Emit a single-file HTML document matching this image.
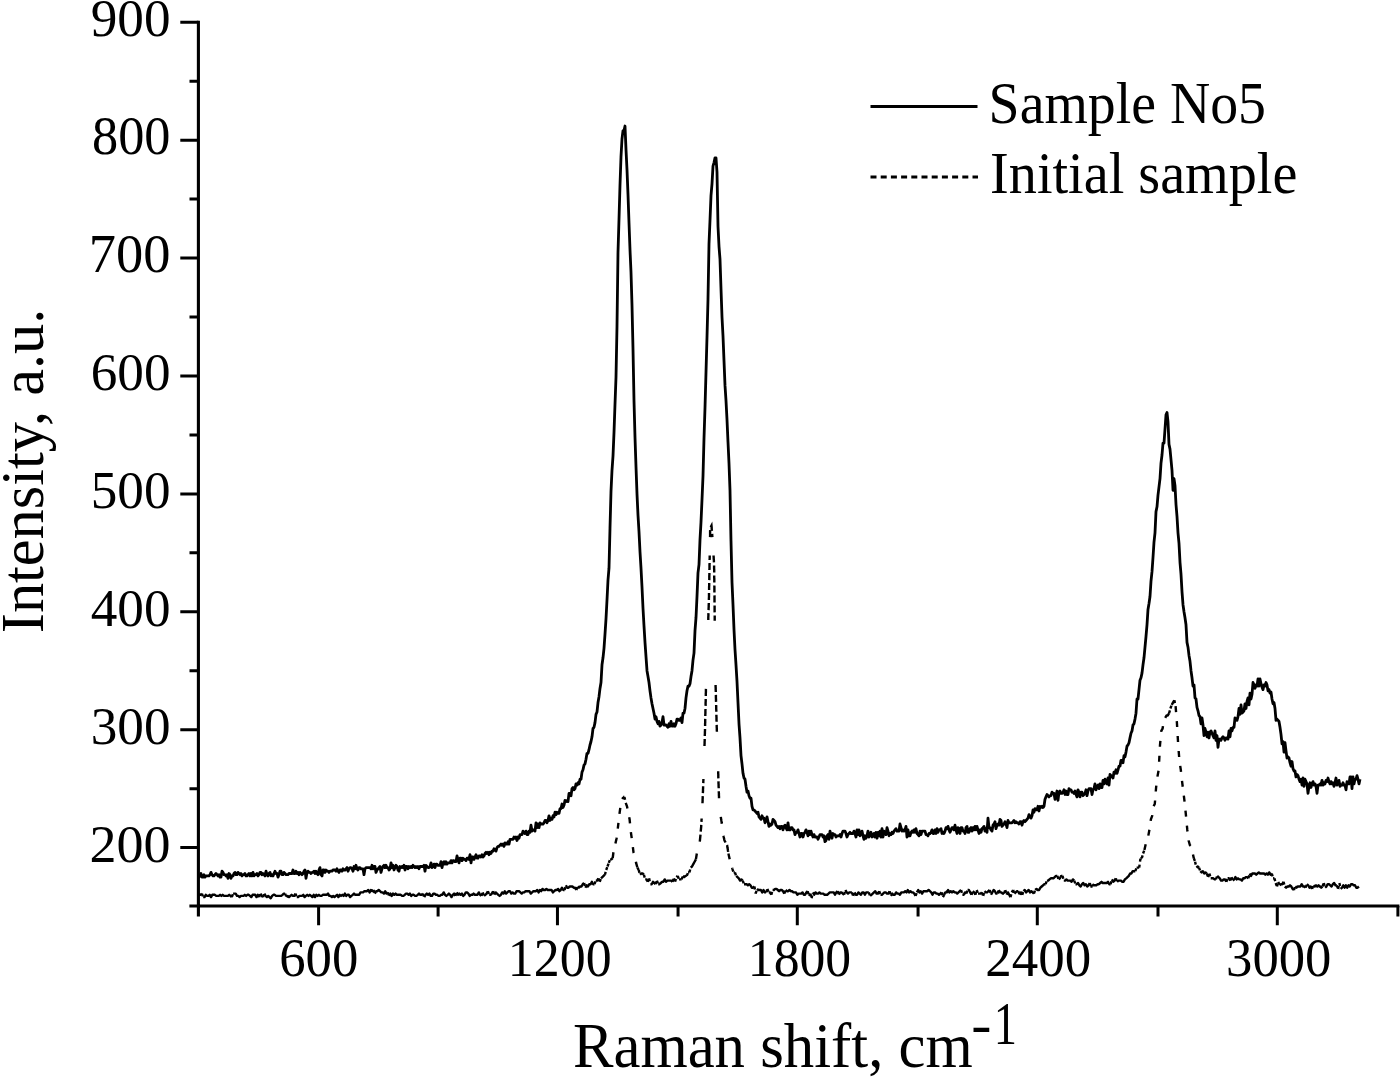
<!DOCTYPE html>
<html><head><meta charset="utf-8"><title>Raman spectra</title>
<style>html,body{margin:0;padding:0;background:#fff;overflow:hidden;width:1400px;height:1077px;}svg{display:block;}</style>
</head><body>
<svg width="1400" height="1077" viewBox="0 0 1400 1077"><rect width="1400" height="1077" fill="#fff"/><polyline fill="none" stroke="#000" stroke-width="2.8" stroke-linejoin="round" points="198.0,877.1 199.0,877.1 200.0,875.9 201.0,873.5 202.0,877.1 203.0,877.1 204.0,874.7 205.0,877.1 206.0,875.9 207.0,875.9 208.0,875.9 209.0,875.9 210.0,874.7 211.0,872.4 212.0,874.7 213.0,875.9 214.0,875.9 215.0,874.7 216.0,873.5 217.0,874.7 218.0,875.9 219.0,874.7 220.0,877.1 221.0,877.1 222.0,871.2 223.0,872.4 224.0,874.7 225.0,874.7 226.0,875.9 227.0,874.7 228.0,878.3 229.0,873.5 230.0,874.7 231.0,878.3 232.0,875.9 233.0,875.9 234.0,873.5 235.0,872.4 236.0,874.7 237.0,874.7 238.0,872.4 239.0,873.5 240.0,874.7 241.0,873.5 242.0,875.9 243.0,874.7 244.0,874.7 245.0,873.5 246.0,875.9 247.0,875.9 248.0,874.7 249.0,873.5 250.0,875.9 251.0,873.5 252.0,875.9 253.0,872.4 254.0,875.9 255.0,874.7 256.0,874.7 257.0,873.5 258.0,875.9 259.0,874.7 260.0,872.4 261.0,872.4 262.0,874.7 263.0,873.5 264.0,874.7 265.0,875.9 266.0,871.2 267.0,874.7 268.0,875.9 269.0,873.5 270.0,872.4 271.0,875.9 272.0,874.7 273.0,875.9 274.0,873.5 275.0,871.2 276.0,873.5 277.0,873.5 278.0,877.1 279.0,874.7 280.0,871.2 281.0,871.2 282.0,874.7 283.0,874.7 284.0,872.4 285.0,873.5 286.0,874.7 287.0,874.7 288.0,874.7 289.0,873.5 290.0,873.5 291.0,873.5 292.0,873.5 293.0,870.0 294.0,873.5 295.0,873.5 296.0,871.2 297.0,873.5 298.0,872.4 299.0,874.7 300.0,872.4 301.0,873.5 302.0,874.7 303.0,873.5 304.0,871.2 305.0,870.0 306.0,878.3 307.0,872.4 308.0,871.2 309.0,872.4 310.0,872.4 311.0,873.5 312.0,872.4 313.0,872.4 314.0,871.2 315.0,873.5 316.0,871.2 317.0,873.5 318.0,874.7 319.0,870.0 320.0,867.6 321.0,874.7 322.0,875.9 323.0,870.0 324.0,870.0 325.0,872.4 326.0,870.0 327.0,871.2 328.0,871.2 329.0,872.4 330.0,871.2 331.0,871.2 332.0,871.2 333.0,870.0 334.0,870.0 335.0,870.0 336.0,871.2 337.0,868.8 338.0,871.2 339.0,872.4 340.0,870.0 341.0,870.0 342.0,871.2 343.0,868.8 344.0,870.0 345.0,870.0 346.0,868.8 347.0,867.6 348.0,871.2 349.0,868.8 350.0,867.6 351.0,867.6 352.0,868.8 353.0,871.2 354.0,866.5 355.0,868.8 356.0,865.3 357.0,868.8 358.0,870.0 359.0,867.6 360.0,867.6 361.0,868.8 362.0,868.8 363.0,868.8 364.0,874.7 365.0,868.8 366.0,867.6 367.0,867.6 368.0,867.6 369.0,867.6 370.0,867.6 371.0,868.8 372.0,865.3 373.0,868.8 374.0,866.5 375.0,866.5 376.0,872.4 377.0,870.0 378.0,868.8 379.0,867.6 380.0,866.5 381.0,872.4 382.0,868.8 383.0,866.5 384.0,865.3 385.0,867.6 386.0,865.3 387.0,867.6 388.0,867.6 389.0,870.0 390.0,868.8 391.0,862.9 392.0,867.6 393.0,865.3 394.0,870.0 395.0,867.6 396.0,865.3 397.0,866.5 398.0,870.0 399.0,871.2 400.0,866.5 401.0,867.6 402.0,866.5 403.0,867.6 404.0,865.3 405.0,870.0 406.0,866.5 407.0,866.5 408.0,868.8 409.0,866.5 410.0,867.6 411.0,866.5 412.0,867.6 413.0,865.3 414.0,866.5 415.0,867.6 416.0,866.5 417.0,867.6 418.0,866.5 419.0,868.8 420.0,866.5 421.0,866.5 422.0,866.5 423.0,866.5 424.0,865.3 425.0,871.2 426.0,865.3 427.0,866.5 428.0,867.6 429.0,867.6 430.0,866.5 431.0,862.9 432.0,867.6 433.0,866.5 434.0,864.1 435.0,867.6 436.0,864.1 437.0,864.1 438.0,865.3 439.0,865.3 440.0,865.3 441.0,861.7 442.0,867.6 443.0,862.9 444.0,861.7 445.0,864.1 446.0,861.7 447.0,864.1 448.0,862.9 449.0,862.9 450.0,862.9 451.0,860.6 452.0,862.9 453.0,860.6 454.0,860.6 455.0,861.7 456.0,861.7 457.0,855.9 458.0,859.4 459.0,862.9 460.0,858.2 461.0,858.2 462.0,860.6 463.0,858.2 464.0,859.4 465.0,859.4 466.0,860.6 467.0,858.2 468.0,858.2 469.0,859.4 470.0,854.7 471.0,862.9 472.0,857.0 473.0,857.0 474.0,859.4 475.0,857.0 476.0,854.7 477.0,858.2 478.0,858.2 479.0,855.9 480.0,855.9 481.0,857.0 482.0,854.7 483.0,857.0 484.0,855.9 485.0,853.5 486.0,852.3 487.0,853.5 488.0,852.3 489.0,854.7 490.0,852.3 491.0,853.5 492.0,851.1 493.0,851.1 494.0,848.8 495.0,850.0 496.0,851.1 497.0,847.6 498.0,846.4 499.0,846.4 500.0,845.2 501.0,844.1 502.0,845.2 503.0,844.1 504.0,846.4 505.0,842.9 506.0,844.1 507.0,844.1 508.0,841.7 509.0,844.1 510.0,839.3 511.0,839.3 512.0,839.3 513.0,839.3 514.0,837.0 515.0,838.2 516.0,837.0 517.0,840.5 518.0,837.0 519.0,838.2 520.0,834.6 521.0,834.6 522.0,834.6 523.0,831.1 524.0,832.3 525.0,833.5 526.0,831.1 527.0,834.6 528.0,834.6 529.0,831.1 530.0,832.3 531.0,825.2 532.0,831.1 533.0,829.9 534.0,829.9 535.0,831.1 536.0,822.8 537.0,827.6 538.0,824.0 539.0,827.6 540.0,822.8 541.0,824.0 542.0,824.0 543.0,824.0 544.0,822.8 545.0,820.5 546.0,820.5 547.0,822.8 548.0,820.5 549.0,815.8 550.0,820.5 551.0,818.1 552.0,819.3 553.0,815.8 554.0,816.9 555.0,812.2 556.0,814.6 557.0,812.2 558.0,813.4 559.0,813.4 560.0,808.7 561.0,808.7 562.0,804.0 563.0,807.5 564.0,805.2 565.0,800.4 566.0,801.6 567.0,800.4 568.0,801.6 569.0,793.4 570.0,793.4 571.0,795.7 572.0,788.6 573.0,787.5 574.0,789.8 575.0,788.6 576.0,783.9 577.0,785.1 578.0,782.8 579.0,783.9 580.0,779.2 581.0,779.2 582.0,772.1 583.0,769.8 584.0,765.1 585.0,763.9 586.0,759.2 587.0,753.3 588.0,753.3 589.0,749.7 590.0,745.0 591.0,741.5 592.0,736.8 593.0,728.5 594.0,727.3 595.0,722.6 596.0,714.4 597.0,712.0 598.0,702.6 599.0,696.7 600.0,688.4 601.0,682.5 602.0,664.8 603.0,657.8 604.0,648.3 605.0,634.2 606.0,618.9 607.0,600.0 608.0,580.0 609.0,568.2 610.0,528.1 611.0,491.5 612.0,470.3 613.0,456.1 614.0,432.6 615.0,404.3 616.0,377.2 617.0,326.5 618.0,252.2 619.0,219.2 620.0,185.0 621.0,156.7 622.0,139.0 623.0,130.7 624.0,130.7 625.0,126.0 626.0,149.6 627.0,169.6 628.0,194.4 629.0,222.7 630.0,249.8 631.0,272.2 632.0,305.2 633.0,348.9 634.0,400.7 635.0,437.3 636.0,466.8 637.0,493.9 638.0,515.1 639.0,531.6 640.0,551.7 641.0,568.2 642.0,587.0 643.0,608.2 644.0,625.9 645.0,642.4 646.0,656.6 647.0,670.7 648.0,676.6 649.0,682.5 650.0,690.8 651.0,697.9 652.0,703.8 653.0,708.5 654.0,713.2 655.0,719.1 656.0,716.7 657.0,721.4 658.0,723.8 659.0,721.4 660.0,726.2 661.0,725.0 662.0,722.6 663.0,716.7 664.0,725.0 665.0,725.0 666.0,725.0 667.0,726.2 668.0,727.3 669.0,723.8 670.0,726.2 671.0,721.4 672.0,726.2 673.0,726.2 674.0,723.8 675.0,726.2 676.0,723.8 677.0,719.1 678.0,719.1 679.0,720.3 680.0,720.3 681.0,717.9 682.0,722.6 683.0,713.2 684.0,713.2 685.0,708.5 686.0,697.9 687.0,690.8 688.0,686.1 689.0,686.1 690.0,683.7 691.0,676.6 692.0,670.7 693.0,660.1 694.0,653.1 695.0,630.7 696.0,617.7 697.0,596.5 698.0,572.9 699.0,564.6 700.0,539.9 701.0,522.2 702.0,499.8 703.0,476.2 704.0,438.5 705.0,407.8 706.0,372.4 707.0,337.1 708.0,299.3 709.0,243.9 710.0,220.3 711.0,195.6 712.0,183.8 713.0,166.1 714.0,162.6 715.0,157.8 716.0,157.8 717.0,172.0 718.0,226.2 719.0,246.3 720.0,259.2 721.0,288.7 722.0,317.0 723.0,335.9 724.0,360.6 725.0,385.4 726.0,400.7 727.0,419.6 728.0,442.0 729.0,463.2 730.0,490.3 731.0,541.0 732.0,582.3 733.0,604.7 734.0,629.5 735.0,649.5 736.0,664.8 737.0,681.4 738.0,702.6 739.0,723.8 740.0,737.9 741.0,755.6 742.0,763.9 743.0,773.3 744.0,778.0 745.0,779.2 746.0,786.3 747.0,792.2 748.0,791.0 749.0,795.7 750.0,798.1 751.0,798.1 752.0,806.3 753.0,809.9 754.0,809.9 755.0,811.0 756.0,812.2 757.0,813.4 758.0,812.2 759.0,816.9 760.0,818.1 761.0,819.3 762.0,815.8 763.0,818.1 764.0,818.1 765.0,822.8 766.0,820.5 767.0,816.9 768.0,821.7 769.0,826.4 770.0,824.0 771.0,825.2 772.0,824.0 773.0,819.3 774.0,820.5 775.0,821.7 776.0,825.2 777.0,826.4 778.0,827.6 779.0,826.4 780.0,828.7 781.0,826.4 782.0,826.4 783.0,829.9 784.0,826.4 785.0,825.2 786.0,827.6 787.0,829.9 788.0,822.8 789.0,829.9 790.0,829.9 791.0,827.6 792.0,827.6 793.0,829.9 794.0,829.9 795.0,834.6 796.0,832.3 797.0,832.3 798.0,829.9 799.0,833.5 800.0,837.0 801.0,833.5 802.0,833.5 803.0,837.0 804.0,833.5 805.0,832.3 806.0,829.9 807.0,832.3 808.0,835.8 809.0,831.1 810.0,834.6 811.0,831.1 812.0,834.6 813.0,837.0 814.0,834.6 815.0,837.0 816.0,837.0 817.0,837.0 818.0,839.3 819.0,837.0 820.0,834.6 821.0,834.6 822.0,834.6 823.0,837.0 824.0,835.8 825.0,841.7 826.0,840.5 827.0,835.8 828.0,834.6 829.0,839.3 830.0,831.1 831.0,834.6 832.0,838.2 833.0,833.5 834.0,834.6 835.0,834.6 836.0,837.0 837.0,835.8 838.0,835.8 839.0,835.8 840.0,834.6 841.0,837.0 842.0,833.5 843.0,831.1 844.0,831.1 845.0,831.1 846.0,833.5 847.0,837.0 848.0,834.6 849.0,833.5 850.0,832.3 851.0,833.5 852.0,833.5 853.0,833.5 854.0,831.1 855.0,833.5 856.0,837.0 857.0,829.9 858.0,834.6 859.0,829.9 860.0,835.8 861.0,833.5 862.0,831.1 863.0,835.8 864.0,839.3 865.0,835.8 866.0,838.2 867.0,835.8 868.0,831.1 869.0,837.0 870.0,834.6 871.0,832.3 872.0,837.0 873.0,835.8 874.0,833.5 875.0,837.0 876.0,832.3 877.0,838.2 878.0,832.3 879.0,835.8 880.0,831.1 881.0,837.0 882.0,828.7 883.0,837.0 884.0,831.1 885.0,832.3 886.0,834.6 887.0,827.6 888.0,831.1 889.0,835.8 890.0,833.5 891.0,834.6 892.0,832.3 893.0,833.5 894.0,831.1 895.0,829.9 896.0,828.7 897.0,831.1 898.0,831.1 899.0,831.1 900.0,824.0 901.0,827.6 902.0,831.1 903.0,829.9 904.0,831.1 905.0,829.9 906.0,826.4 907.0,837.0 908.0,829.9 909.0,835.8 910.0,835.8 911.0,832.3 912.0,831.1 913.0,832.3 914.0,829.9 915.0,832.3 916.0,828.7 917.0,833.5 918.0,834.6 919.0,835.8 920.0,831.1 921.0,834.6 922.0,831.1 923.0,831.1 924.0,831.1 925.0,831.1 926.0,834.6 927.0,834.6 928.0,835.8 929.0,833.5 930.0,833.5 931.0,832.3 932.0,829.9 933.0,833.5 934.0,833.5 935.0,829.9 936.0,833.5 937.0,828.7 938.0,832.3 939.0,829.9 940.0,829.9 941.0,828.7 942.0,833.5 943.0,832.3 944.0,833.5 945.0,831.1 946.0,827.6 947.0,828.7 948.0,826.4 949.0,829.9 950.0,832.3 951.0,829.9 952.0,827.6 953.0,827.6 954.0,829.9 955.0,825.2 956.0,829.9 957.0,833.5 958.0,827.6 959.0,828.7 960.0,833.5 961.0,827.6 962.0,827.6 963.0,831.1 964.0,831.1 965.0,833.5 966.0,827.6 967.0,826.4 968.0,832.3 969.0,832.3 970.0,828.7 971.0,827.6 972.0,831.1 973.0,827.6 974.0,829.9 975.0,826.4 976.0,829.9 977.0,826.4 978.0,829.9 979.0,833.5 980.0,829.9 981.0,832.3 982.0,828.7 983.0,827.6 984.0,826.4 985.0,831.1 986.0,828.7 987.0,832.3 988.0,818.1 989.0,827.6 990.0,827.6 991.0,829.9 992.0,831.1 993.0,825.2 994.0,824.0 995.0,821.7 996.0,828.7 997.0,825.2 998.0,824.0 999.0,825.2 1000.0,819.3 1001.0,820.5 1002.0,826.4 1003.0,825.2 1004.0,824.0 1005.0,821.7 1006.0,824.0 1007.0,827.6 1008.0,820.5 1009.0,822.8 1010.0,822.8 1011.0,822.8 1012.0,822.8 1013.0,821.7 1014.0,820.5 1015.0,822.8 1016.0,821.7 1017.0,822.8 1018.0,822.8 1019.0,824.0 1020.0,821.7 1021.0,821.7 1022.0,825.2 1023.0,821.7 1024.0,820.5 1025.0,821.7 1026.0,820.5 1027.0,819.3 1028.0,818.1 1029.0,814.6 1030.0,816.9 1031.0,818.1 1032.0,815.8 1033.0,809.9 1034.0,812.2 1035.0,808.7 1036.0,809.9 1037.0,809.9 1038.0,806.3 1039.0,811.0 1040.0,806.3 1041.0,807.5 1042.0,806.3 1043.0,807.5 1044.0,806.3 1045.0,799.3 1046.0,796.9 1047.0,794.5 1048.0,795.7 1049.0,796.9 1050.0,795.7 1051.0,795.7 1052.0,792.2 1053.0,793.4 1054.0,793.4 1055.0,799.3 1056.0,795.7 1057.0,791.0 1058.0,800.4 1059.0,792.2 1060.0,791.0 1061.0,793.4 1062.0,793.4 1063.0,792.2 1064.0,789.8 1065.0,794.5 1066.0,791.0 1067.0,794.5 1068.0,794.5 1069.0,788.6 1070.0,789.8 1071.0,789.8 1072.0,792.2 1073.0,792.2 1074.0,793.4 1075.0,791.0 1076.0,794.5 1077.0,796.9 1078.0,789.8 1079.0,792.2 1080.0,796.9 1081.0,792.2 1082.0,792.2 1083.0,795.7 1084.0,794.5 1085.0,793.4 1086.0,789.8 1087.0,795.7 1088.0,791.0 1089.0,788.6 1090.0,788.6 1091.0,788.6 1092.0,794.5 1093.0,789.8 1094.0,788.6 1095.0,783.9 1096.0,789.8 1097.0,786.3 1098.0,785.1 1099.0,788.6 1100.0,783.9 1101.0,787.5 1102.0,787.5 1103.0,780.4 1104.0,783.9 1105.0,779.2 1106.0,782.8 1107.0,783.9 1108.0,778.0 1109.0,785.1 1110.0,774.5 1111.0,775.7 1112.0,776.9 1113.0,778.0 1114.0,772.1 1115.0,773.3 1116.0,769.8 1117.0,773.3 1118.0,769.8 1119.0,766.2 1120.0,766.2 1121.0,760.3 1122.0,760.3 1123.0,762.7 1124.0,755.6 1125.0,756.8 1126.0,752.1 1127.0,746.2 1128.0,745.0 1129.0,742.7 1130.0,737.9 1131.0,733.2 1132.0,730.9 1133.0,725.0 1134.0,723.8 1135.0,719.1 1136.0,713.2 1137.0,699.0 1138.0,699.0 1139.0,689.6 1140.0,680.2 1141.0,677.8 1142.0,673.1 1143.0,664.8 1144.0,657.8 1145.0,647.2 1146.0,636.5 1147.0,624.8 1148.0,609.4 1149.0,603.5 1150.0,596.5 1151.0,581.1 1152.0,571.7 1153.0,557.5 1154.0,542.2 1155.0,532.8 1156.0,511.6 1157.0,506.8 1158.0,495.1 1159.0,486.8 1160.0,478.6 1161.0,463.2 1162.0,455.0 1163.0,443.2 1164.0,443.2 1165.0,429.0 1166.0,414.9 1167.0,412.5 1168.0,422.0 1169.0,444.4 1170.0,449.1 1171.0,459.7 1172.0,470.3 1173.0,490.3 1174.0,478.6 1175.0,485.6 1176.0,504.5 1177.0,516.3 1178.0,532.8 1179.0,543.4 1180.0,562.3 1181.0,574.1 1182.0,591.7 1183.0,604.7 1184.0,611.8 1185.0,617.7 1186.0,624.8 1187.0,642.4 1188.0,647.2 1189.0,655.4 1190.0,661.3 1191.0,670.7 1192.0,677.8 1193.0,686.1 1194.0,684.9 1195.0,697.9 1196.0,699.0 1197.0,707.3 1198.0,710.8 1199.0,715.5 1200.0,716.7 1201.0,723.8 1202.0,717.9 1203.0,725.0 1204.0,735.6 1205.0,728.5 1206.0,732.1 1207.0,736.8 1208.0,732.1 1209.0,737.9 1210.0,732.1 1211.0,730.9 1212.0,733.2 1213.0,735.6 1214.0,737.9 1215.0,730.9 1216.0,740.3 1217.0,735.6 1218.0,747.4 1219.0,739.1 1220.0,739.1 1221.0,740.3 1222.0,737.9 1223.0,736.8 1224.0,737.9 1225.0,740.3 1226.0,737.9 1227.0,737.9 1228.0,739.1 1229.0,730.9 1230.0,736.8 1231.0,728.5 1232.0,730.9 1233.0,727.3 1234.0,727.3 1235.0,717.9 1236.0,719.1 1237.0,720.3 1238.0,716.7 1239.0,708.5 1240.0,714.4 1241.0,704.9 1242.0,713.2 1243.0,712.0 1244.0,710.8 1245.0,703.8 1246.0,708.5 1247.0,701.4 1248.0,697.9 1249.0,704.9 1250.0,693.1 1251.0,699.0 1252.0,694.3 1253.0,682.5 1254.0,684.9 1255.0,688.4 1256.0,684.9 1257.0,686.1 1258.0,679.0 1259.0,686.1 1260.0,679.0 1261.0,683.7 1262.0,687.2 1263.0,689.6 1264.0,684.9 1265.0,686.1 1266.0,682.5 1267.0,684.9 1268.0,690.8 1269.0,689.6 1270.0,693.1 1271.0,692.0 1272.0,699.0 1273.0,703.8 1274.0,702.6 1275.0,708.5 1276.0,720.3 1277.0,719.1 1278.0,720.3 1279.0,721.4 1280.0,727.3 1281.0,734.4 1282.0,743.8 1283.0,741.5 1284.0,752.1 1285.0,742.7 1286.0,750.9 1287.0,758.0 1288.0,756.8 1289.0,758.0 1290.0,762.7 1291.0,766.2 1292.0,761.5 1293.0,768.6 1294.0,771.0 1295.0,771.0 1296.0,776.9 1297.0,774.5 1298.0,775.7 1299.0,779.2 1300.0,781.6 1301.0,779.2 1302.0,785.1 1303.0,778.0 1304.0,786.3 1305.0,779.2 1306.0,781.6 1307.0,783.9 1308.0,793.4 1309.0,786.3 1310.0,782.8 1311.0,787.5 1312.0,783.9 1313.0,781.6 1314.0,785.1 1315.0,783.9 1316.0,786.3 1317.0,793.4 1318.0,785.1 1319.0,785.1 1320.0,783.9 1321.0,785.1 1322.0,780.4 1323.0,785.1 1324.0,782.8 1325.0,783.9 1326.0,780.4 1327.0,781.6 1328.0,778.0 1329.0,781.6 1330.0,783.9 1331.0,781.6 1332.0,783.9 1333.0,782.8 1334.0,786.3 1335.0,782.8 1336.0,778.0 1337.0,785.1 1338.0,782.8 1339.0,780.4 1340.0,786.3 1341.0,785.1 1342.0,785.1 1343.0,782.8 1344.0,785.1 1345.0,785.1 1346.0,789.8 1347.0,781.6 1348.0,782.8 1349.0,783.9 1350.0,776.9 1351.0,776.9 1352.0,788.6 1353.0,776.9 1354.0,783.9 1355.0,779.2 1356.0,779.2 1357.0,775.7 1358.0,779.2 1359.0,783.9 1360.0,779.2"/><path fill="none" stroke="#000" stroke-width="2.4" stroke-linejoin="round" d="M198.0,895.9 L199.3,894.8 L200.6,894.8 L201.9,893.6M203.2,897.1 L204.5,897.1 L205.8,894.8 L207.1,895.9 L208.4,895.9 L209.7,894.8 L211.0,897.1 L212.3,894.8 L213.6,894.8 L214.9,894.8 L216.2,895.9 L217.5,895.9 L218.8,895.9 L220.1,894.8 L221.4,895.9 L222.7,894.8 L224.0,895.9 L225.3,895.9 L226.6,895.9 L227.9,895.9 L229.2,894.8 L230.5,895.9 L231.8,897.1M233.1,893.6 L234.4,893.6 L235.7,893.6 L237.0,895.9 L238.3,895.9 L239.6,897.1 L240.9,895.9 L242.2,895.9 L243.5,895.9 L244.8,894.8 L246.1,895.9 L247.4,894.8 L248.7,894.8 L250.0,895.9 L251.3,897.1 L252.6,894.8 L253.9,894.8 L255.2,894.8 L256.5,897.1 L257.8,894.8 L259.1,897.1M260.4,893.6 L261.7,895.9 L263.0,897.1M264.3,893.6 L265.6,895.9 L266.9,897.1 L268.2,895.9 L269.5,897.1 L270.8,898.3 L272.1,895.9 L273.4,894.8 L274.7,894.8 L276.0,895.9 L277.3,895.9 L278.6,895.9 L279.9,895.9 L281.2,895.9 L282.5,894.8 L283.8,893.6 L285.1,893.6M286.4,897.1 L287.7,895.9 L289.0,897.1 L290.3,895.9 L291.6,894.8 L292.9,895.9 L294.2,895.9 L295.5,893.6M296.8,897.1 L298.1,897.1 L299.4,895.9 L300.7,895.9 L302.0,895.9 L303.3,894.8 L304.6,897.1 L305.9,895.9 L307.2,894.8 L308.5,895.9 L309.8,894.8 L311.1,895.9 L312.4,897.1 L313.7,894.8 L315.0,897.1 L316.3,894.8 L317.6,895.9 L318.9,894.8 L320.2,895.9 L321.5,895.9 L322.8,894.8 L324.1,894.8 L325.4,894.8 L326.7,894.8 L328.0,893.6 L329.3,895.9 L330.6,895.9 L331.9,897.1 L333.2,895.9 L334.5,897.1 L335.8,895.9 L337.1,894.8 L338.4,897.1 L339.7,894.8 L341.0,895.9 L342.3,894.8 L343.6,895.9 L344.9,893.6 L346.2,895.9 L347.5,894.8 L348.8,894.8 L350.1,897.1 L351.4,895.9 L352.7,894.8 L354.0,893.6 L355.3,894.8 L356.6,894.8 L357.9,894.8 L359.2,894.8 L360.5,892.4 L361.8,892.4 L363.1,892.4 L364.4,891.2 L365.7,891.2 L367.0,891.2 L368.3,890.0 L369.6,892.4 L370.9,890.0 L372.2,891.2 L373.5,890.0M374.8,893.6 L376.1,891.2 L377.4,891.2 L378.7,890.0 L380.0,891.2 L381.3,892.4 L382.6,892.4 L383.9,893.6 L385.2,891.2 L386.5,893.6 L387.8,892.4M389.1,895.9 L390.4,893.6 L391.7,895.9 L393.0,893.6 L394.3,894.8 L395.6,893.6 L396.9,894.8 L398.2,894.8 L399.5,894.8 L400.8,894.8 L402.1,895.9 L403.4,895.9 L404.7,894.8 L406.0,893.6 L407.3,893.6 L408.6,894.8 L409.9,893.6 L411.2,895.9 L412.5,894.8 L413.8,894.8 L415.1,895.9 L416.4,895.9 L417.7,894.8 L419.0,893.6 L420.3,894.8 L421.6,894.8 L422.9,893.6M424.2,897.1 L425.5,894.8 L426.8,893.6 L428.1,894.8 L429.4,893.6 L430.7,895.9 L432.0,895.9 L433.3,893.6 L434.6,893.6 L435.9,894.8 L437.2,894.8 L438.5,895.9 L439.8,895.9 L441.1,894.8 L442.4,894.8 L443.7,892.4 L445.0,894.8 L446.3,895.9 L447.6,894.8 L448.9,893.6 L450.2,894.8 L451.5,897.1 L452.8,894.8 L454.1,893.6 L455.4,895.9M456.7,892.4 L458.0,894.8 L459.3,893.6 L460.6,894.8 L461.9,893.6 L463.2,895.9 L464.5,894.8 L465.8,892.4 L467.1,892.4 L468.4,893.6 L469.7,895.9 L471.0,894.8 L472.3,894.8 L473.6,893.6 L474.9,894.8 L476.2,894.8 L477.5,894.8 L478.8,892.4 L480.1,894.8 L481.4,895.9M484.0,895.9 L485.3,894.8 L486.6,893.6 L487.9,891.2M489.2,894.8 L490.5,894.8 L491.8,893.6 L493.1,891.2M494.4,894.8 L495.7,892.4 L497.0,893.6 L498.3,894.8 L499.6,895.9 L500.9,894.8 L502.2,892.4 L503.5,893.6 L504.8,891.2 L506.1,893.6 L507.4,892.4 L508.7,891.2 L510.0,891.2 L511.3,893.6 L512.6,892.4 L513.9,893.6 L515.2,893.6 L516.5,891.2 L517.8,891.2 L519.1,891.2 L520.4,892.4 L521.7,893.6 L523.0,892.4 L524.3,892.4 L525.6,891.2 L526.9,891.2 L528.2,891.2 L529.5,891.2 L530.8,893.6 L532.1,892.4 L533.4,891.2 L534.7,891.2 L536.0,891.2 L537.3,890.0 L538.6,892.4 L539.9,890.0 L541.2,891.2 L542.5,888.9 L543.8,890.0 L545.1,890.0 L546.4,888.9 L547.7,890.0 L549.0,890.0 L550.3,890.0 L551.6,890.0 L552.9,892.4 L554.2,891.2 L555.5,890.0 L556.8,890.0 L558.1,888.9 L559.4,891.2 L560.7,890.0 L562.0,887.7 L563.3,890.0 L564.6,890.0M565.9,885.3 L567.2,887.7 L568.5,887.7 L569.8,886.5 L571.1,886.5 L572.4,886.5 L573.7,887.7 L575.0,887.7 L576.3,890.0M577.6,886.5 L578.9,887.7 L580.2,886.5 L581.5,886.5 L582.8,884.2 L584.1,883.0M585.4,887.7 L586.7,885.3 L588.0,886.5 L589.3,884.2 L590.6,884.2 L591.9,881.8 L593.2,884.2 L594.5,884.2M595.8,880.6 L597.1,880.6 L598.4,878.3M601.0,878.3 L602.3,877.1 L603.6,875.9 L604.9,874.7M610.1,859.4 L611.4,859.4 L612.7,858.2M623.1,796.9 L624.4,796.9M637.4,867.6 L638.7,870.0M640.0,874.7 L641.3,873.5 L642.6,873.5 L643.9,874.7M645.2,879.4 L646.5,879.4 L647.8,881.8M650.4,884.2 L651.7,884.2 L653.0,881.8 L654.3,883.0 L655.6,884.2M658.2,884.2 L659.5,884.2 L660.8,883.0 L662.1,881.8 L663.4,881.8 L664.7,879.4 L666.0,881.8 L667.3,880.6 L668.6,880.6 L669.9,880.6 L671.2,880.6 L672.5,881.8M676.4,877.1 L677.7,875.9M679.0,879.4 L680.3,879.4 L681.6,879.4M682.9,875.9 L684.2,877.1 L685.5,875.9 L686.8,875.9M688.1,872.4 L689.4,872.4M690.7,867.6 L692.0,866.5 L693.3,864.1 L694.6,861.7 L695.9,859.4M733.6,872.4 L734.9,872.4M736.2,875.9 L737.5,877.1 L738.8,878.3 L740.1,880.6 L741.4,879.4 L742.7,880.6M744.0,884.2 L745.3,884.2 L746.6,884.2 L747.9,885.3 L749.2,884.2 L750.5,885.3 L751.8,887.7 L753.1,887.7 L754.4,886.5M757.0,888.9 L758.3,890.0 L759.6,890.0 L760.9,890.0 L762.2,892.4 L763.5,890.0 L764.8,892.4 L766.1,892.4M768.7,892.4 L770.0,892.4 L771.3,894.8M772.6,890.0 L773.9,890.0 L775.2,888.9 L776.5,888.9 L777.8,890.0 L779.1,891.2 L780.4,890.0 L781.7,890.0 L783.0,891.2 L784.3,893.6M785.6,890.0 L786.9,891.2 L788.2,891.2 L789.5,890.0 L790.8,891.2 L792.1,891.2 L793.4,892.4 L794.7,892.4 L796.0,892.4 L797.3,894.8 L798.6,893.6 L799.9,893.6 L801.2,893.6 L802.5,892.4 L803.8,894.8 L805.1,894.8 L806.4,892.4 L807.7,891.2M809.0,895.9 L810.3,893.6M812.9,892.4 L814.2,894.8 L815.5,892.4 L816.8,893.6 L818.1,893.6 L819.4,892.4 L820.7,893.6 L822.0,893.6 L823.3,893.6 L824.6,894.8 L825.9,894.8 L827.2,894.8 L828.5,893.6 L829.8,892.4 L831.1,892.4 L832.4,892.4 L833.7,892.4 L835.0,894.8 L836.3,892.4 L837.6,891.2M838.9,894.8 L840.2,892.4 L841.5,892.4 L842.8,893.6 L844.1,894.8M845.4,890.0 L846.7,892.4 L848.0,893.6 L849.3,892.4 L850.6,892.4 L851.9,892.4M854.5,892.4 L855.8,894.8 L857.1,894.8 L858.4,892.4 L859.7,893.6 L861.0,894.8 L862.3,892.4 L863.6,892.4 L864.9,894.8 L866.2,892.4 L867.5,892.4 L868.8,892.4M870.1,895.9 L871.4,894.8 L872.7,893.6 L874.0,892.4 L875.3,891.2 L876.6,893.6 L877.9,893.6 L879.2,891.2M880.5,894.8 L881.8,894.8 L883.1,893.6 L884.4,892.4 L885.7,892.4 L887.0,893.6 L888.3,893.6 L889.6,891.2M890.9,895.9 L892.2,893.6 L893.5,894.8 L894.8,894.8 L896.1,892.4 L897.4,893.6 L898.7,893.6 L900.0,894.8 L901.3,892.4 L902.6,892.4 L903.9,892.4 L905.2,891.2 L906.5,892.4 L907.8,890.0 L909.1,892.4 L910.4,891.2 L911.7,892.4 L913.0,892.4 L914.3,893.6 L915.6,895.9M916.9,892.4 L918.2,890.0 L919.5,892.4 L920.8,891.2 L922.1,893.6 L923.4,891.2 L924.7,891.2 L926.0,891.2 L927.3,891.2 L928.6,890.0 L929.9,891.2 L931.2,892.4 L932.5,894.8 L933.8,892.4 L935.1,892.4 L936.4,893.6 L937.7,893.6 L939.0,894.8 L940.3,893.6 L941.6,892.4M942.9,897.1 L944.2,894.8M945.5,891.2 L946.8,892.4 L948.1,890.0 L949.4,892.4 L950.7,891.2 L952.0,892.4 L953.3,891.2 L954.6,892.4 L955.9,892.4 L957.2,893.6 L958.5,892.4 L959.8,891.2 L961.1,890.0M962.4,894.8 L963.7,894.8 L965.0,892.4 L966.3,893.6M967.6,890.0 L968.9,890.0 L970.2,892.4 L971.5,894.8M972.8,891.2 L974.1,892.4 L975.4,894.8M978.0,893.6 L979.3,893.6 L980.6,893.6 L981.9,892.4M984.5,891.2 L985.8,892.4 L987.1,892.4 L988.4,891.2 L989.7,890.0M991.0,894.8 L992.3,892.4 L993.6,890.0 L994.9,891.2 L996.2,893.6 L997.5,893.6M998.8,890.0 L1000.1,892.4 L1001.4,892.4 L1002.7,893.6 L1004.0,893.6M1006.6,894.8 L1007.9,892.4 L1009.2,894.8 L1010.5,897.1M1011.8,892.4 L1013.1,890.0M1014.4,893.6 L1015.7,892.4 L1017.0,891.2 L1018.3,891.2M1019.6,894.8 L1020.9,892.4 L1022.2,894.8M1023.5,891.2 L1024.8,890.0 L1026.1,892.4 L1027.4,891.2 L1028.7,890.0 L1030.0,892.4 L1031.3,891.2 L1032.6,892.4 L1033.9,893.6M1035.2,890.0 L1036.5,888.9 L1037.8,890.0 L1039.1,890.0 L1040.4,887.7 L1041.7,886.5 L1043.0,885.3 L1044.3,884.2 L1045.6,884.2M1046.9,880.6 L1048.2,880.6 L1049.5,879.4 L1050.8,878.3 L1052.1,878.3 L1053.4,878.3 L1054.7,877.1 L1056.0,875.9 L1057.3,875.9M1058.6,879.4 L1059.9,878.3 L1061.2,875.9 L1062.5,875.9M1063.8,880.6 L1065.1,880.6 L1066.4,879.4 L1067.7,880.6 L1069.0,880.6 L1070.3,880.6 L1071.6,881.8 L1072.9,879.4 L1074.2,880.6M1075.5,884.2 L1076.8,884.2 L1078.1,883.0 L1079.4,885.3 L1080.7,886.5 L1082.0,884.2 L1083.3,883.0 L1084.6,885.3 L1085.9,884.2 L1087.2,886.5 L1088.5,885.3 L1089.8,883.0M1092.4,884.2 L1093.7,885.3 L1095.0,885.3 L1096.3,885.3 L1097.6,884.2 L1098.9,884.2 L1100.2,883.0 L1101.5,881.8 L1102.8,883.0 L1104.1,883.0 L1105.4,883.0 L1106.7,883.0 L1108.0,881.8 L1109.3,884.2 L1110.6,884.2M1111.9,879.4 L1113.2,881.8 L1114.5,880.6 L1115.8,878.3M1117.1,881.8 L1118.4,880.6 L1119.7,880.6 L1121.0,880.6 L1122.3,881.8 L1123.6,881.8 L1124.9,879.4 L1126.2,878.3 L1127.5,877.1 L1128.8,875.9 L1130.1,873.5 L1131.4,873.5 L1132.7,871.2 L1134.0,871.2 L1135.3,871.2M1136.6,867.6 L1137.9,867.6 L1139.2,867.6M1140.5,858.2 L1141.8,858.2M1165.2,717.9 L1166.5,715.5 L1167.8,715.5 L1169.1,713.2M1171.7,704.9 L1173.0,702.6 L1174.3,700.2M1196.4,867.6 L1197.7,866.5 L1199.0,867.6M1200.3,871.2 L1201.6,872.4 L1202.9,871.2 L1204.2,873.5 L1205.5,872.4 L1206.8,873.5M1210.7,878.3 L1212.0,878.3 L1213.3,878.3 L1214.6,879.4 L1215.9,879.4M1217.2,875.9 L1218.5,877.1 L1219.8,878.3 L1221.1,880.6 L1222.4,880.6 L1223.7,879.4 L1225.0,879.4 L1226.3,881.8M1227.6,878.3 L1228.9,878.3 L1230.2,880.6M1232.8,880.6 L1234.1,879.4 L1235.4,877.1 L1236.7,879.4 L1238.0,878.3 L1239.3,879.4 L1240.6,879.4 L1241.9,880.6 L1243.2,878.3 L1244.5,878.3 L1245.8,877.1 L1247.1,877.1 L1248.4,878.3M1249.7,873.5 L1251.0,875.9 L1252.3,873.5 L1253.6,873.5 L1254.9,873.5 L1256.2,874.7 L1257.5,873.5 L1258.8,872.4 L1260.1,873.5 L1261.4,873.5 L1262.7,873.5 L1264.0,873.5 L1265.3,874.7 L1266.6,873.5 L1267.9,874.7 L1269.2,872.4 L1270.5,874.7 L1271.8,873.5M1273.1,878.3 L1274.4,878.3M1279.6,885.3 L1280.9,884.2 L1282.2,884.2 L1283.5,881.8M1284.8,886.5 L1286.1,887.7 L1287.4,886.5 L1288.7,886.5 L1290.0,885.3 L1291.3,886.5 L1292.6,888.9 L1293.9,890.0M1295.2,886.5 L1296.5,887.7 L1297.8,886.5 L1299.1,886.5 L1300.4,886.5 L1301.7,884.2 L1303.0,886.5 L1304.3,886.5 L1305.6,887.7M1306.9,884.2 L1308.2,885.3 L1309.5,887.7 L1310.8,886.5 L1312.1,888.9M1313.4,885.3 L1314.7,886.5 L1316.0,885.3 L1317.3,886.5 L1318.6,885.3 L1319.9,886.5 L1321.2,887.7 L1322.5,886.5M1325.1,887.7 L1326.4,886.5 L1327.7,884.2 L1329.0,884.2 L1330.3,885.3 L1331.6,886.5 L1332.9,884.2 L1334.2,883.0 L1335.5,885.3 L1336.8,885.3M1340.7,888.9 L1342.0,887.7 L1343.3,885.3 L1344.6,887.7 L1345.9,885.3 L1347.2,887.7 L1348.5,885.3 L1349.8,886.5 L1351.1,884.2 L1352.4,884.2 L1353.7,885.3 L1355.0,885.3 L1356.3,887.7 L1357.6,887.7 L1358.9,886.5"/><path fill="none" stroke="#000" stroke-width="2.4" stroke-dasharray="6 9" d="M612.7,858.2 L614.0,847.6 L615.3,844.1 L616.6,838.2 L617.9,827.6 L619.2,815.8 L620.5,806.3 L621.8,804.0 L623.1,796.9M625.7,802.8 L627.0,806.3 L628.3,813.4 L629.6,819.3 L630.9,832.3 L632.2,841.7 L633.5,852.3 L634.8,855.9 L636.1,862.9 L637.4,867.6M695.9,859.4 L697.2,851.1 L698.5,847.6M728.4,853.5 L729.7,859.4 L731.0,860.6 L732.3,868.8M1144.4,850.0 L1145.7,844.1 L1147.0,841.7 L1148.3,835.8 L1149.6,828.7 L1150.9,819.3 L1152.2,815.8 L1153.5,806.3 L1154.8,804.0 L1156.1,787.5 L1157.4,776.9 L1158.7,769.8 L1160.0,745.0 L1161.3,730.9 L1162.6,728.5 L1163.9,720.3 L1165.2,717.9M1175.6,706.1 L1176.9,722.6 L1178.2,745.0 L1179.5,761.5 L1180.8,769.8 L1182.1,781.6 L1183.4,792.2 L1184.7,802.8 L1186.0,815.8 L1187.3,829.9 L1188.6,840.5 L1189.9,845.2 L1191.2,846.4 L1192.5,852.3 L1193.8,858.2"/><path fill="none" stroke="#000" stroke-width="2.4" stroke-dasharray="3 3" d="M201.9,893.6 L203.2,897.1M231.8,897.1 L233.1,893.6M259.1,897.1 L260.4,893.6M263.0,897.1 L264.3,893.6M285.1,893.6 L286.4,897.1M295.5,893.6 L296.8,897.1M373.5,890.0 L374.8,893.6M387.8,892.4 L389.1,895.9M422.9,893.6 L424.2,897.1M455.4,895.9 L456.7,892.4M481.4,895.9 L482.7,892.4M482.7,892.4 L484.0,895.9M487.9,891.2 L489.2,894.8M493.1,891.2 L494.4,894.8M564.6,890.0 L565.9,885.3M576.3,890.0 L577.6,886.5M584.1,883.0 L585.4,887.7M594.5,884.2 L595.8,880.6M598.4,878.3 L599.7,881.8M599.7,881.8 L601.0,878.3M604.9,874.7 L606.2,870.0M606.2,870.0 L607.5,866.5M607.5,866.5 L608.8,862.9M608.8,862.9 L610.1,859.4M624.4,796.9 L625.7,802.8M638.7,870.0 L640.0,874.7M643.9,874.7 L645.2,879.4M647.8,881.8 L649.1,878.3M649.1,878.3 L650.4,884.2M655.6,884.2 L656.9,880.6M656.9,880.6 L658.2,884.2M672.5,881.8 L673.8,878.3M673.8,878.3 L675.1,881.8M675.1,881.8 L676.4,877.1M677.7,875.9 L679.0,879.4M681.6,879.4 L682.9,875.9M686.8,875.9 L688.1,872.4M689.4,872.4 L690.7,867.6M732.3,868.8 L733.6,872.4M734.9,872.4 L736.2,875.9M742.7,880.6 L744.0,884.2M754.4,886.5 L755.7,893.6M755.7,893.6 L757.0,888.9M766.1,892.4 L767.4,888.9M767.4,888.9 L768.7,892.4M771.3,894.8 L772.6,890.0M784.3,893.6 L785.6,890.0M807.7,891.2 L809.0,895.9M810.3,893.6 L811.6,898.3M811.6,898.3 L812.9,892.4M837.6,891.2 L838.9,894.8M844.1,894.8 L845.4,890.0M851.9,892.4 L853.2,895.9M853.2,895.9 L854.5,892.4M868.8,892.4 L870.1,895.9M879.2,891.2 L880.5,894.8M889.6,891.2 L890.9,895.9M915.6,895.9 L916.9,892.4M941.6,892.4 L942.9,897.1M944.2,894.8 L945.5,891.2M961.1,890.0 L962.4,894.8M966.3,893.6 L967.6,890.0M971.5,894.8 L972.8,891.2M975.4,894.8 L976.7,890.0M976.7,890.0 L978.0,893.6M981.9,892.4 L983.2,895.9M983.2,895.9 L984.5,891.2M989.7,890.0 L991.0,894.8M997.5,893.6 L998.8,890.0M1004.0,893.6 L1005.3,890.0M1005.3,890.0 L1006.6,894.8M1010.5,897.1 L1011.8,892.4M1013.1,890.0 L1014.4,893.6M1018.3,891.2 L1019.6,894.8M1022.2,894.8 L1023.5,891.2M1033.9,893.6 L1035.2,890.0M1045.6,884.2 L1046.9,880.6M1057.3,875.9 L1058.6,879.4M1062.5,875.9 L1063.8,880.6M1074.2,880.6 L1075.5,884.2M1089.8,883.0 L1091.1,887.7M1091.1,887.7 L1092.4,884.2M1110.6,884.2 L1111.9,879.4M1115.8,878.3 L1117.1,881.8M1135.3,871.2 L1136.6,867.6M1139.2,867.6 L1140.5,858.2M1141.8,858.2 L1143.1,853.5M1143.1,853.5 L1144.4,850.0M1169.1,713.2 L1170.4,708.5M1170.4,708.5 L1171.7,704.9M1174.3,700.2 L1175.6,706.1M1193.8,858.2 L1195.1,861.7M1195.1,861.7 L1196.4,867.6M1199.0,867.6 L1200.3,871.2M1206.8,873.5 L1208.1,877.1M1208.1,877.1 L1209.4,873.5M1209.4,873.5 L1210.7,878.3M1215.9,879.4 L1217.2,875.9M1226.3,881.8 L1227.6,878.3M1230.2,880.6 L1231.5,877.1M1231.5,877.1 L1232.8,880.6M1248.4,878.3 L1249.7,873.5M1271.8,873.5 L1273.1,878.3M1274.4,878.3 L1275.7,883.0M1275.7,883.0 L1277.0,886.5M1277.0,886.5 L1278.3,881.8M1278.3,881.8 L1279.6,885.3M1283.5,881.8 L1284.8,886.5M1293.9,890.0 L1295.2,886.5M1305.6,887.7 L1306.9,884.2M1312.1,888.9 L1313.4,885.3M1322.5,886.5 L1323.8,883.0M1323.8,883.0 L1325.1,887.7M1336.8,885.3 L1338.1,888.9M1338.1,888.9 L1339.4,883.0M1339.4,883.0 L1340.7,888.9"/><path fill="none" stroke="#000" stroke-width="2.4" stroke-dasharray="7 3" d="M699.8,841.7 L699.9,840.7 L700.0,839.7 L700.1,838.7 L700.2,837.7 L700.3,836.7 L700.4,835.6 L700.5,834.6 L700.5,833.6 L700.6,832.6 L700.7,831.6 L700.8,830.6 L700.9,829.6 L701.0,828.6 L701.1,827.6 L701.2,826.5 L701.2,825.5 L701.3,824.5 L701.3,823.5 L701.4,822.5 L701.5,821.4 L701.5,820.4 L701.6,819.4 L701.6,818.4M702.5,803.2 L702.5,802.2 L702.6,801.2 L702.6,800.2 L702.6,799.1 L702.7,798.1 L702.7,797.1 L702.8,796.1 L702.8,795.1 L702.8,794.1 L702.9,793.1 L702.9,792.1 L703.0,791.1 L703.0,790.1 L703.0,789.1 L703.1,788.1 L703.1,787.1 L703.1,786.1 L703.2,785.1 L703.2,784.1 L703.3,783.1 L703.3,782.1 L703.3,781.1 L703.4,780.1 L703.4,779.1M704.5,745.9 L704.5,744.9 L704.6,743.8 L704.6,742.8 L704.6,741.8 L704.7,740.8 L704.7,739.8 L704.7,738.8 L704.8,737.8 L704.8,736.8 L704.8,735.8 L704.8,734.7 L704.9,733.7 L704.9,732.7 L704.9,731.7 L705.0,730.7 L705.0,729.7 L705.0,728.7 L705.0,727.7 L705.1,726.7 L705.1,725.6 L705.1,724.6 L705.1,723.6 L705.2,722.6 L705.2,721.6 L705.2,720.6 L705.2,719.6 L705.3,718.6 L705.3,717.6 L705.3,716.6 L705.3,715.5 L705.3,714.5 L705.4,713.5 L705.4,712.5 L705.4,711.5 L705.4,710.5 L705.5,709.5 L705.5,708.5 L705.5,707.5 L705.5,706.4 L705.6,705.4 L705.6,704.4 L705.6,703.4 L705.6,702.4 L705.7,701.4 L705.7,700.4 L705.7,699.4 L705.7,698.4 L705.7,697.4 L705.8,696.3 L705.8,695.3 L705.8,694.3 L705.8,693.3 L705.9,692.3 L705.9,691.3 L705.9,690.3 L705.9,689.3 L706.0,688.3 L706.0,687.2M708.3,620.0 L708.3,619.0 L708.3,618.0 L708.3,617.0 L708.4,616.0 L708.4,615.0 L708.4,614.0 L708.5,613.0 L708.5,612.0 L708.5,611.0 L708.6,610.0 L708.6,609.0 L708.6,608.0 L708.7,607.0 L708.7,606.0 L708.7,605.0 L708.8,604.0 L708.8,603.0 L708.8,602.0 L708.9,601.0 L708.9,600.0 L708.9,599.0 L708.9,598.0 L709.0,597.0 L709.0,595.9 L709.0,594.9 L709.0,593.9 L709.0,592.9 L709.0,591.9 L709.1,590.9 L709.1,589.9 L709.1,588.9 L709.1,587.8 L709.1,586.8 L709.2,585.8 L709.2,584.8 L709.2,583.8 L709.2,582.8 L709.2,581.8 L709.2,580.7 L709.3,579.7 L709.3,578.7 L709.3,577.7 L709.3,576.7 L709.3,575.7 L709.4,574.7 L709.4,573.7 L709.4,572.6 L709.4,571.6 L709.4,570.6 L709.4,569.6 L709.5,568.6 L709.5,567.6 L709.5,566.6 L709.5,565.6 L709.5,564.5 L709.6,563.5 L709.6,562.5 L709.6,561.5 L709.6,560.5 L709.6,559.5 L709.7,558.5 L709.7,557.4 L709.7,556.4 L709.7,555.4M710.0,537.2 L710.1,536.2 L710.1,535.2 L710.1,534.1 L710.1,533.1 L710.1,532.1 L710.1,531.1 L710.2,530.1 L710.2,529.1 L710.2,528.1 L710.9,526.9 L711.5,525.7 L711.6,526.7 L711.7,527.8 L711.7,528.8 L711.8,529.8 L711.9,530.9 L712.0,531.9 L712.1,532.9 L712.2,534.0 L712.2,535.0 L712.3,536.0 L712.4,537.1M713.6,555.5 L713.6,556.5 L713.7,557.5 L713.7,558.5 L713.8,559.5 L713.9,560.5 L713.9,561.6 L714.0,562.6 L714.0,563.6 L714.1,564.6 L714.1,565.6 L714.1,566.6 L714.1,567.6 L714.1,568.6 L714.2,569.6 L714.2,570.6 L714.2,571.6 L714.2,572.6 L714.2,573.6 L714.2,574.6 L714.2,575.6 L714.2,576.6 L714.2,577.6 L714.3,578.6 L714.3,579.6 L714.3,580.6 L714.3,581.7 L714.3,582.7 L714.3,583.7 L714.3,584.7 L714.3,585.7 L714.4,586.7 L714.4,587.7 L714.4,588.7 L714.4,589.7 L714.4,590.7 L714.4,591.7 L714.4,592.7 L714.4,593.7 L714.4,594.7 L714.5,595.7 L714.5,596.7 L714.5,597.7 L714.5,598.7 L714.5,599.7 L714.5,600.7 L714.5,601.7 L714.5,602.7 L714.5,603.7 L714.6,604.7 L714.6,605.7 L714.6,606.7 L714.6,607.7 L714.6,608.7 L714.6,609.7 L714.6,610.7 L714.6,611.7 L714.7,612.7 L714.7,613.7 L714.7,614.7 L714.7,615.7 L714.7,616.7 L714.7,617.7 L714.7,618.7 L714.7,619.7 L714.7,620.7M715.6,684.9 L715.6,685.9 L715.6,686.9 L715.7,687.9 L715.7,688.9 L715.7,689.9 L715.8,690.9 L715.8,691.9 L715.8,692.9 L715.8,693.9 L715.9,694.9 L715.9,695.9 L715.9,696.9 L715.9,698.0 L716.0,699.0 L716.0,700.0 L716.0,701.0 L716.1,702.0 L716.1,703.0 L716.1,704.0 L716.1,705.0 L716.2,706.0 L716.2,707.0 L716.2,708.0 L716.2,709.0 L716.3,710.0 L716.3,711.0 L716.3,712.1 L716.3,713.1 L716.4,714.1 L716.4,715.1 L716.4,716.1 L716.5,717.1 L716.5,718.1 L716.5,719.1 L716.5,720.1 L716.6,721.1 L716.6,722.1 L716.6,723.1 L716.6,724.1 L716.7,725.1 L716.7,726.2 L716.7,727.2 L716.8,728.2 L716.8,729.2 L716.8,730.2 L716.9,731.2 L716.9,732.2M718.2,771.3 L718.2,772.3 L718.2,773.3 L718.3,774.3 L718.3,775.3 L718.3,776.3 L718.3,777.3 L718.4,778.3 L718.4,779.3 L718.4,780.3 L718.5,781.3 L718.5,782.3 L718.5,783.4 L718.6,784.4 L718.6,785.4 L718.6,786.4 L718.7,787.4 L718.7,788.4 L718.7,789.4 L718.8,790.4 L718.8,791.4 L718.8,792.4 L718.9,793.4 L718.9,794.4 L718.9,795.4 L719.0,796.4 L719.0,797.4 L719.0,798.5M720.8,816.8 L720.9,817.8 L721.1,818.9 L721.3,819.9 L721.4,820.9 L721.6,822.0 L721.7,823.0 L721.9,824.0M723.5,835.8 L723.7,837.0 L724.0,838.2 L724.2,839.3 L724.5,840.5 L725.2,841.7 L725.8,842.9 L726.5,844.1 L727.1,845.2 L727.3,846.3 L727.4,847.3 L727.6,848.3 L727.8,849.4 L727.9,850.4 L728.1,851.4 L728.2,852.5 L728.4,853.5"/><path fill="none" stroke="#000" stroke-width="3.1" d="M198.4 20.75V916.6M189.4 906.0H1399.4"/><path fill="none" stroke="#000" stroke-width="3" d="M180.3 847.60H198.4M180.3 729.69H198.4M180.3 611.79H198.4M180.3 493.88H198.4M180.3 375.97H198.4M180.3 258.06H198.4M180.3 140.16H198.4M180.3 22.25H198.4M189.5 788.65H198.4M189.5 670.74H198.4M189.5 552.83H198.4M189.5 434.92H198.4M189.5 317.02H198.4M189.5 199.11H198.4M189.5 81.20H198.4M318.60 906.0V925.3M557.45 906.0V925.3M797.30 906.0V925.3M1037.30 906.0V925.3M1277.30 906.0V925.3M438.10 906.0V916.4M678.06 906.0V916.4M918.06 906.0V916.4M1158.00 906.0V916.4M1397.90 906.0V916.4"/><text transform="translate(89.55,861.50) scale(1.0007,0.9973)" font-family='"Liberation Serif", serif' font-size="54">200</text><text transform="translate(90.78,743.59) scale(0.9850,0.9973)" font-family='"Liberation Serif", serif' font-size="54">300</text><text transform="translate(90.78,625.69) scale(0.9850,0.9973)" font-family='"Liberation Serif", serif' font-size="54">400</text><text transform="translate(90.74,507.78) scale(0.9855,0.9973)" font-family='"Liberation Serif", serif' font-size="54">500</text><text transform="translate(90.78,389.87) scale(0.9850,0.9973)" font-family='"Liberation Serif", serif' font-size="54">600</text><text transform="translate(88.87,271.97) scale(1.0093,0.9973)" font-family='"Liberation Serif", serif' font-size="54">700</text><text transform="translate(92.06,154.06) scale(0.9688,0.9973)" font-family='"Liberation Serif", serif' font-size="54">800</text><text transform="translate(90.78,36.15) scale(0.9851,0.9973)" font-family='"Liberation Serif", serif' font-size="54">900</text><text transform="translate(279.20,976.10) scale(0.9772,1.0000)" font-family='"Liberation Serif", serif' font-size="54">600</text><text transform="translate(507.84,976.10) scale(0.9610,1.0000)" font-family='"Liberation Serif", serif' font-size="54">1200</text><text transform="translate(747.85,976.10) scale(0.9570,1.0000)" font-family='"Liberation Serif", serif' font-size="54">1800</text><text transform="translate(985.29,976.10) scale(0.9812,1.0000)" font-family='"Liberation Serif", serif' font-size="54">2400</text><text transform="translate(1226.06,976.10) scale(0.9758,1.0000)" font-family='"Liberation Serif", serif' font-size="54">3000</text><text transform="translate(572.91,1067.30) scale(0.9643,1.0000)" font-family='"Liberation Serif", serif' font-size="63">Raman shift, cm</text><text transform="translate(971.23,1042.82) scale(0.9636,0.9053)" font-family='"Liberation Serif", serif' font-size="63">-</text><text transform="translate(993.85,1043.50) scale(0.7371,0.9725)" font-family='"Liberation Serif", serif' font-size="63">1</text><text transform="translate(43.3,633.19) rotate(-90) scale(0.9731,1)" font-family='"Liberation Serif", serif' font-size="62">Intensity, a.u.</text><line x1="870.5" y1="106.5" x2="977.5" y2="106.5" stroke="#000" stroke-width="3"/><line x1="870.5" y1="177" x2="978" y2="177" stroke="#000" stroke-width="3" stroke-dasharray="6 4.2"/><text transform="translate(988.62,122.80) scale(0.9456,1.0000)" font-family='"Liberation Serif", serif' font-size="59">Sample No5</text><text transform="translate(990.10,193.30) scale(0.9522,1.0000)" font-family='"Liberation Serif", serif' font-size="59">Initial sample</text></svg>
</body></html>
